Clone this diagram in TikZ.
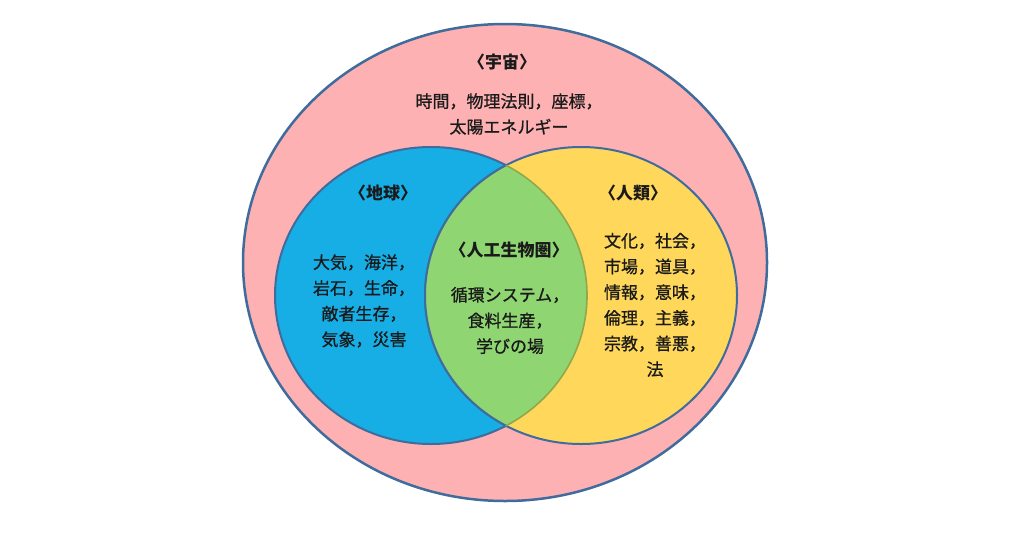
\documentclass[tikz,border=0pt]{standalone}
\usepackage{fontspec}
\setmainfont{Noto Sans CJK JP}
\newfontfamily\bodyjp{Noto Sans CJK JP}[FakeBold=0.8]
\definecolor{pinkbg}{HTML}{FDB1B3}
\definecolor{earthblue}{HTML}{17AEE6}
\definecolor{humyellow}{HTML}{FFD75A}
\definecolor{lensgreen}{HTML}{8FD673}
\definecolor{edgeblue}{HTML}{3F6C9C}
\definecolor{olive}{HTML}{8FA84C}
\definecolor{txt}{HTML}{1A1A1A}
\tikzset{
  headtext/.style={text=txt,font=\fontsize{17}{20}\selectfont\bfseries,inner sep=0pt},
  bodytext/.style={text=txt,font=\fontsize{17}{25.7}\selectfont\bodyjp,align=center,inner sep=0pt},
}
\begin{document}
\begin{tikzpicture}[x=1pt,y=-1pt]
\useasboundingbox (0,0) rectangle (1024,538);
% outer universe
\path[fill=pinkbg,draw=edgeblue,line width=2.5pt] (505,262.5) ellipse [x radius=262, y radius=238.5];
% earth
\path[fill=earthblue,draw=edgeblue,line width=2pt] (431,295.5) ellipse [x radius=156, y radius=148.5];
% humanity
\path[fill=humyellow,draw=edgeblue,line width=2pt] (581,295.5) ellipse [x radius=156, y radius=148.5];
% lens
\begin{scope}
  \clip (431,295.5) ellipse [x radius=156, y radius=148.5];
  \fill[lensgreen] (581,295.5) ellipse [x radius=156, y radius=148.5];
  \draw[edgeblue,line width=2pt] (581,295.5) ellipse [x radius=156, y radius=148.5];
\end{scope}
\begin{scope}
  \clip (581,295.5) ellipse [x radius=156, y radius=148.5];
  \draw[olive,line width=1.6pt] (431,295.5) ellipse [x radius=156, y radius=148.5];
\end{scope}
% texts
\node[headtext] (uh) at (502,62) {〈宇宙〉};
\node[bodytext] (ub) at (509,114) {時間，物理法則，座標，\\太陽エネルギー};
\node[headtext] (eh) at (383,193) {〈地球〉};
\node[bodytext] (eb) at (364,301) {大気，海洋，\\岩石，生命，\\敵者生存，\\気象，災害};
\node[headtext] (hh) at (633,193) {〈人類〉};
\node[bodytext] (hb) at (655,305) {文化，社会，\\市場，道具，\\情報，意味，\\倫理，主義，\\宗教，善悪，\\法};
\node[headtext] (lh) at (509,250) {〈人工生物圏〉};
\node[bodytext] (lb) at (510,320.5) {循環システム，\\食料生産，\\学びの場};
\end{tikzpicture}
\end{document}
